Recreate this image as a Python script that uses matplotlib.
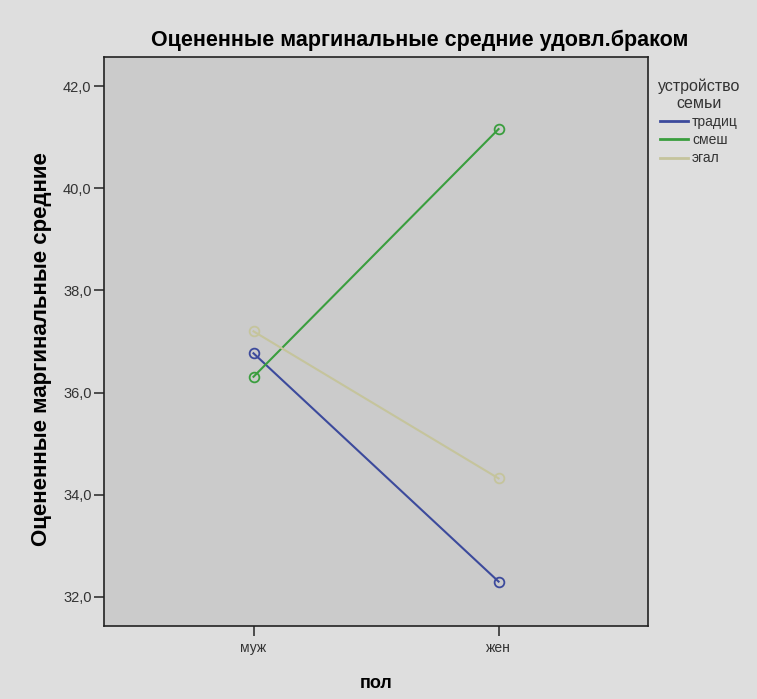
import matplotlib
matplotlib.use('Agg')
import matplotlib.pyplot as plt
from matplotlib.ticker import FuncFormatter

# 데이터
genders = ['муж', 'жен']
groups = ['традиц', 'смеш', 'эгал']
means_trad = [36.77, 32.30]
means_mix = [36.31, 41.16]
means_egal = [37.20, 34.32]
yticks = [32, 34, 36, 38, 40, 42]

colors = ['#3c4a9c', '#3a9e3e', '#c5c49c']

plt.rcParams['font.family'] = ['Liberation Sans', 'DejaVu Sans']

fig = plt.figure(figsize=(7.57, 6.99), dpi=100)
fig.patch.set_facecolor('#dedede')
ax = fig.add_axes([0.1374, 0.1044, 0.7187, 0.8140])
ax.set_facecolor('#cbcbcb')

x = list(range(len(genders)))
for vals, name, col in zip([means_trad, means_mix, means_egal], groups, colors):
    ax.plot(x, vals, color=col, lw=1.5, marker='o', ms=7, mfc='none',
            mec=col, mew=1.3, label=name)

ax.set_xlim(-0.61, 1.61)
ax.set_ylim(31.43, 42.57)
ax.set_xticks(x)
ax.set_xticklabels(genders)
ax.set_yticks(yticks)
ax.yaxis.set_major_formatter(FuncFormatter(lambda v, p: f'{v:.1f}'.replace('.', ',')))
ax.tick_params(axis='y', labelsize=10.5, colors='#333333', length=7, width=1.2, pad=2)
ax.tick_params(axis='x', labelsize=10, colors='#333333', length=7, width=1.2, pad=4)
for s in ax.spines.values():
    s.set_color('#222222')
    s.set_linewidth(1.2)

ax.set_ylabel('Оцененные маргинальные средние', fontsize=16, fontweight='bold')
ax.yaxis.set_label_coords(-0.095, 0.487)
ax.set_xlabel('пол', fontsize=13, fontweight='bold', labelpad=14)
fig.text(0.555, 0.942, 'Оцененные маргинальные средние удовл.браком',
         ha='center', va='center', fontsize=15.5, fontweight='bold')

leg = ax.legend(loc='upper left', bbox_to_anchor=(0.995, 0.985), frameon=False,
                title='устройство\nсемьи', fontsize=10, title_fontsize=11.5,
                handlelength=2.0, handletextpad=0.3, labelspacing=0.3)
leg._legend_box.align = 'center'
leg.get_title().set_multialignment('center')
leg.get_title().set_color('#333333')
for t in leg.get_texts():
    t.set_color('#333333')
for h in leg.legend_handles:
    h.set_marker('')
    h.set_linewidth(2)

fig.savefig('out.png', dpi=100, facecolor=fig.get_facecolor())
